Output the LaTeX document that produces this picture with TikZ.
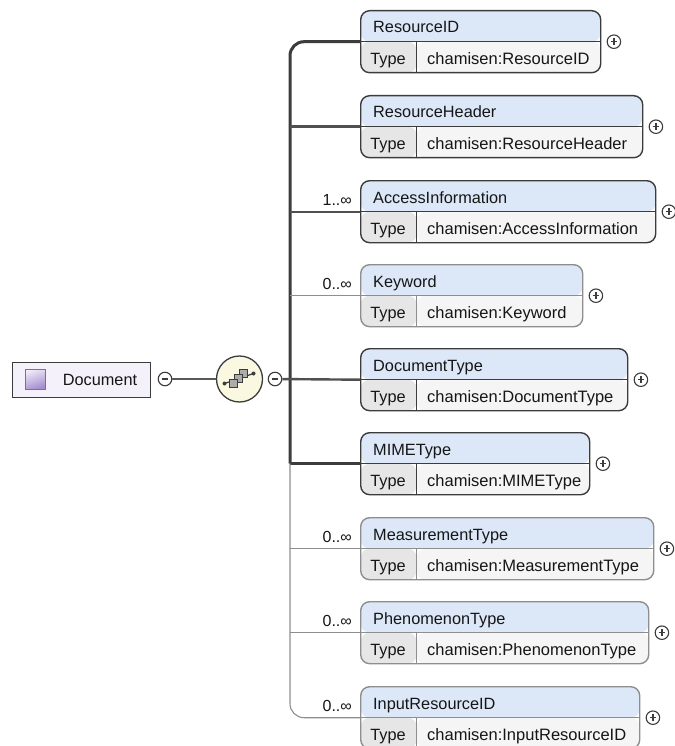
\documentclass[tikz,border=0pt]{standalone}
\usepackage{fontspec}
\setmainfont{Liberation Sans}
\usetikzlibrary{calc}

\definecolor{txt}{HTML}{161616}
\definecolor{darkline}{HTML}{3C3C3C}
\definecolor{lightline}{HTML}{8E8E8E}
\definecolor{hdrfill}{HTML}{DCE7F8}
\definecolor{typefill}{HTML}{E6E6E6}
\definecolor{valfill}{HTML}{F5F5F5}
\definecolor{docfill}{HTML}{F4F1FA}
\definecolor{seqfill}{HTML}{FBF8E1}
\definecolor{iconhi}{HTML}{EFEAF8}
\definecolor{iconlo}{HTML}{A48ECF}
\definecolor{iconedge}{HTML}{7D6AAE}

\tikzset{
  elem/.style={rectangle, rounded corners=9pt, line width=1.4pt, draw=#1,
    minimum height=62pt, anchor=north west, inner sep=0pt,
    path picture={
      \fill[hdrfill] (path picture bounding box.north west) rectangle (path picture bounding box.east);
      \fill[typefill] (path picture bounding box.west) rectangle ([xshift=56pt]path picture bounding box.south west);
      \fill[valfill] ([xshift=56pt]path picture bounding box.west) rectangle (path picture bounding box.south east);
      \draw[#1, line width=1.4pt] (path picture bounding box.west) -- (path picture bounding box.east);
      \draw[#1, line width=1.2pt] ([xshift=56pt]path picture bounding box.west) -- ([xshift=56pt]path picture bounding box.south west);
    }},
  mand/.style={elem=darkline},
  opt/.style={elem=lightline},
  pm/.style={circle, draw=darkline, fill=white, line width=1.1pt, minimum size=13.5pt, inner sep=0pt},
  plus/.style={pm, path picture={
      \draw[line width=1.2pt] ([xshift=-3.3pt]path picture bounding box.center) -- ([xshift=3.3pt]path picture bounding box.center)
        ([yshift=-3.3pt]path picture bounding box.center) -- ([yshift=3.3pt]path picture bounding box.center);}},
  minus/.style={pm, path picture={
      \draw[line width=1.2pt] ([xshift=-3.3pt]path picture bounding box.center) -- ([xshift=3.3pt]path picture bounding box.center);}},
  busthick/.style={draw=darkline, line width=3pt},
  conthick/.style={draw=darkline!90, line width=2.4pt},
  busthin/.style={draw=lightline, line width=1.1pt},
  conthin/.style={draw=lightline, line width=1.1pt},
  mult/.style={anchor=base east, font=\fontsize{16}{19}\selectfont},
}

% one element: name, top edge, right edge, element name, type name, style
\newcommand\xelem[6]{%
  \node[#6, minimum width={(#3-360)*1pt}] (#1) at (360,#2) {};
  \node[anchor=base west] (#1-h) at ([xshift=13pt,yshift=-23pt]#1.north west) {#4};
  \node[anchor=base] (#1-k) at ([xshift=28pt,yshift=-23pt]#1.west) {Type};
  \node[anchor=base west, font=\fontsize{16.5}{19}\selectfont] (#1-v) at ([xshift=67pt,yshift=-23pt]#1.west) {#5};
  \node[plus] (#1-p) at ([xshift=12.5pt]#1.east) {};
}

\begin{document}
\begin{tikzpicture}[x=1pt,y=-1pt,
  every node/.style={font=\fontsize{16.3}{19}\selectfont, text=txt, inner sep=0pt}]
\useasboundingbox (0,0) rectangle (674,746);
\fill[white] (0,0) rectangle (674,746);

% child elements of the sequence
\xelem{r1}{10}{600}{ResourceID}{chamisen:ResourceID}{mand}
\xelem{r2}{95}{642}{ResourceHeader}{chamisen:ResourceHeader}{mand}
\xelem{r3}{180}{655}{AccessInformation}{chamisen:AccessInformation}{mand}
\xelem{r4}{264}{582}{Keyword}{chamisen:Keyword}{opt}
\xelem{r5}{348}{627}{DocumentType}{chamisen:DocumentType}{mand}
\xelem{r6}{432}{589}{MIMEType}{chamisen:MIMEType}{mand}
\xelem{r7}{517}{653}{MeasurementType}{chamisen:MeasurementType}{opt}
\xelem{r8}{601}{648}{PhenomenonType}{chamisen:PhenomenonType}{opt}
\xelem{r9}{686}{639}{InputResourceID}{chamisen:InputResourceID}{opt}

% root element
\node[rectangle, draw=darkline, line width=1.4pt, fill=docfill, anchor=north west,
      minimum width=138pt, minimum height=35pt] (doc) at (12,362) {};
\node[rectangle, draw=iconedge, line width=0.8pt, top color=iconhi, bottom color=iconlo,
      shading angle=20, minimum size=20pt] (doc-i) at (35,379) {};
\node[anchor=base] (doc-t) at (100,385) {Document};
\node[minus] (doc-m) at (165,379) {};

% sequence compositor
\node[circle, draw=darkline, line width=1.3pt, fill=seqfill, minimum size=46pt] (seq) at (239.5,379) {};
\node[minus] (seq-m) at (275,379) {};
\begin{scope}[shift={(seq.center)}]
  \draw[line width=1.2pt, darkline] (-15,4.5) -- (14,-5.5);
  \fill[darkline] (-15,4.5) circle (2);
  \fill[darkline] (14,-5.5) circle (2);
  \foreach \dx/\dy in {4/-5.5,-1/-0.5,-6/4.5}
    \draw[fill=gray!65, draw=darkline, line width=0.9pt] (\dx-4.3,\dy-4.3) rectangle (\dx+4.3,\dy+4.3);
\end{scope}

\draw[draw=darkline!85, line width=1.6pt] (doc-m) -- (seq);

% connectors
\coordinate (busx) at (290,0);
\draw[busthick, rounded corners=14pt] (r1.west) -| (r6.west -| busx);
\draw[busthick] (r6.west -| busx) -- (r6.west);
\draw[busthin, rounded corners=14pt] (r6.west -| busx) |- (r9.west);
\draw[conthick] (seq-m) -- (r5.west);
\foreach \r in {r2,r3}
  \draw[conthick] (\r.west -| busx) -- (\r.west);
\foreach \r in {r4,r7,r8}
  \draw[conthin] (\r.west -| busx) -- (\r.west);

% occurrence labels
\node[mult] (m3) at ([xshift=-8pt,yshift=6pt]r3.west) {1..∞};
\node[mult] (m4) at ([xshift=-8pt,yshift=6pt]r4.west) {0..∞};
\node[mult] (m7) at ([xshift=-8pt,yshift=6pt]r7.west) {0..∞};
\node[mult] (m8) at ([xshift=-8pt,yshift=6pt]r8.west) {0..∞};
\node[mult] (m9) at ([xshift=-8pt,yshift=6pt]r9.west) {0..∞};
\end{tikzpicture}
\end{document}
